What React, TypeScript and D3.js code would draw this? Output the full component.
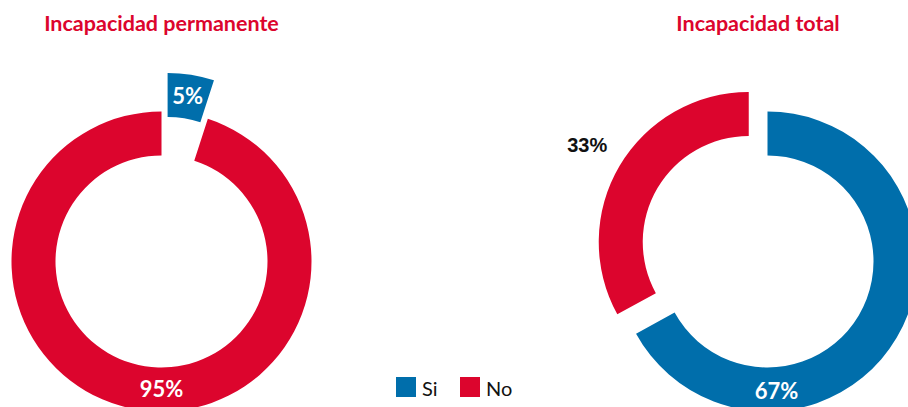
import React from "react";
import * as d3 from "d3";

const categories = ["Si", "No"];
const permanenteValues = [5, 95];
const totalValues = [67, 33];
const titles = ["Incapacidad permanente", "Incapacidad total"];
const labelTexts = [["5%", "95%"], ["67%", "33%"]];

const RED = "#dc052d";
const BLUE = "#006eab";
const colors = [BLUE, RED];

const W = 908;
const H = 407;
const R_OUT = 150;
const R_IN = 106;

type LabelCfg = { mode: "centroid" | "polar"; angle?: number; r?: number; color: string; font: string; size: number };

const charts = [
  {
    title: titles[0],
    values: permanenteValues,
    labels: labelTexts[0],
    cx: 161.5,
    cy: 261.5,
    titleX: 161.5,
    explodeIdx: 0,
    explodeDist: 39,
    explodeAngle: null as number | null,
    labelCfg: [
      { mode: "centroid", color: "#fff", font: "Lato", size: 22 },
      { mode: "polar", angle: 180, r: 128, color: "#fff", font: "Lato", size: 22 },
    ] as LabelCfg[],
  },
  {
    title: titles[1],
    values: totalValues,
    labels: labelTexts[1],
    cx: 767.5,
    cy: 261.5,
    titleX: 758,
    explodeIdx: 1,
    explodeDist: 27,
    explodeAngle: 316 as number | null,
    labelCfg: [
      { mode: "polar", angle: 176, r: 130, color: "#fff", font: "Lato", size: 22 },
      { mode: "polar", angle: 303, r: 215, color: "#111", font: "Liberation Sans", size: 20 },
    ] as LabelCfg[],
  },
];

function Donut({ c }: { c: (typeof charts)[number] }) {
  const pie = d3.pie<number>().sort(null).value((d) => d);
  const arcs = pie(c.values);
  const arc = d3.arc<d3.PieArcDatum<number>>().innerRadius(R_IN).outerRadius(R_OUT);
  return (
    <g>
      <text
        x={c.titleX}
        y={31}
        textAnchor="middle"
        fill={RED}
        fontFamily="Lato"
        fontWeight="bold"
        fontSize={21.5}
      >
        {c.title}
      </text>
      <g transform={`translate(${c.cx},${c.cy})`}>
        {arcs.map((a, i) => {
          let dx = 0;
          let dy = 0;
          if (i === c.explodeIdx) {
            const ang = c.explodeAngle != null ? (c.explodeAngle * Math.PI) / 180 : (a.startAngle + a.endAngle) / 2;
            dx = Math.sin(ang) * c.explodeDist;
            dy = -Math.cos(ang) * c.explodeDist;
          }
          const cfg = c.labelCfg[i];
          let lx: number, ly: number;
          if (cfg.mode === "centroid") {
            const [x, y] = arc.centroid(a);
            lx = x + dx;
            ly = y + dy;
          } else {
            const ang = ((cfg.angle as number) * Math.PI) / 180;
            lx = Math.sin(ang) * (cfg.r as number);
            ly = -Math.cos(ang) * (cfg.r as number);
          }
          return (
            <g key={i}>
              <path d={arc(a) as string} fill={colors[i]} transform={`translate(${dx},${dy})`} />
              <text
                x={lx}
                y={ly}
                dy="0.36em"
                textAnchor="middle"
                fill={cfg.color}
                fontFamily={cfg.font}
                fontWeight="bold"
                fontSize={cfg.size}
              >
                {c.labels[i]}
              </text>
            </g>
          );
        })}
      </g>
    </g>
  );
}

export default function App() {
  const legendX = d3.scalePoint<string>().domain(categories).range([396, 460]);
  return (
    <svg width={W} height={H} style={{ position: "absolute", left: 0, top: 0, background: "#fff" }}>
      {charts.map((c, i) => (
        <Donut key={i} c={c} />
      ))}
      <g>
        {categories.map((cat, i) => (
          <g key={cat} transform={`translate(${legendX(cat)},377)`}>
            <rect width={20} height={20} fill={colors[i]} />
            <text x={26} y={18.5} fontFamily="Lato" fontSize={20} fill="#111">
              {cat}
            </text>
          </g>
        ))}
      </g>
    </svg>
  );
}
